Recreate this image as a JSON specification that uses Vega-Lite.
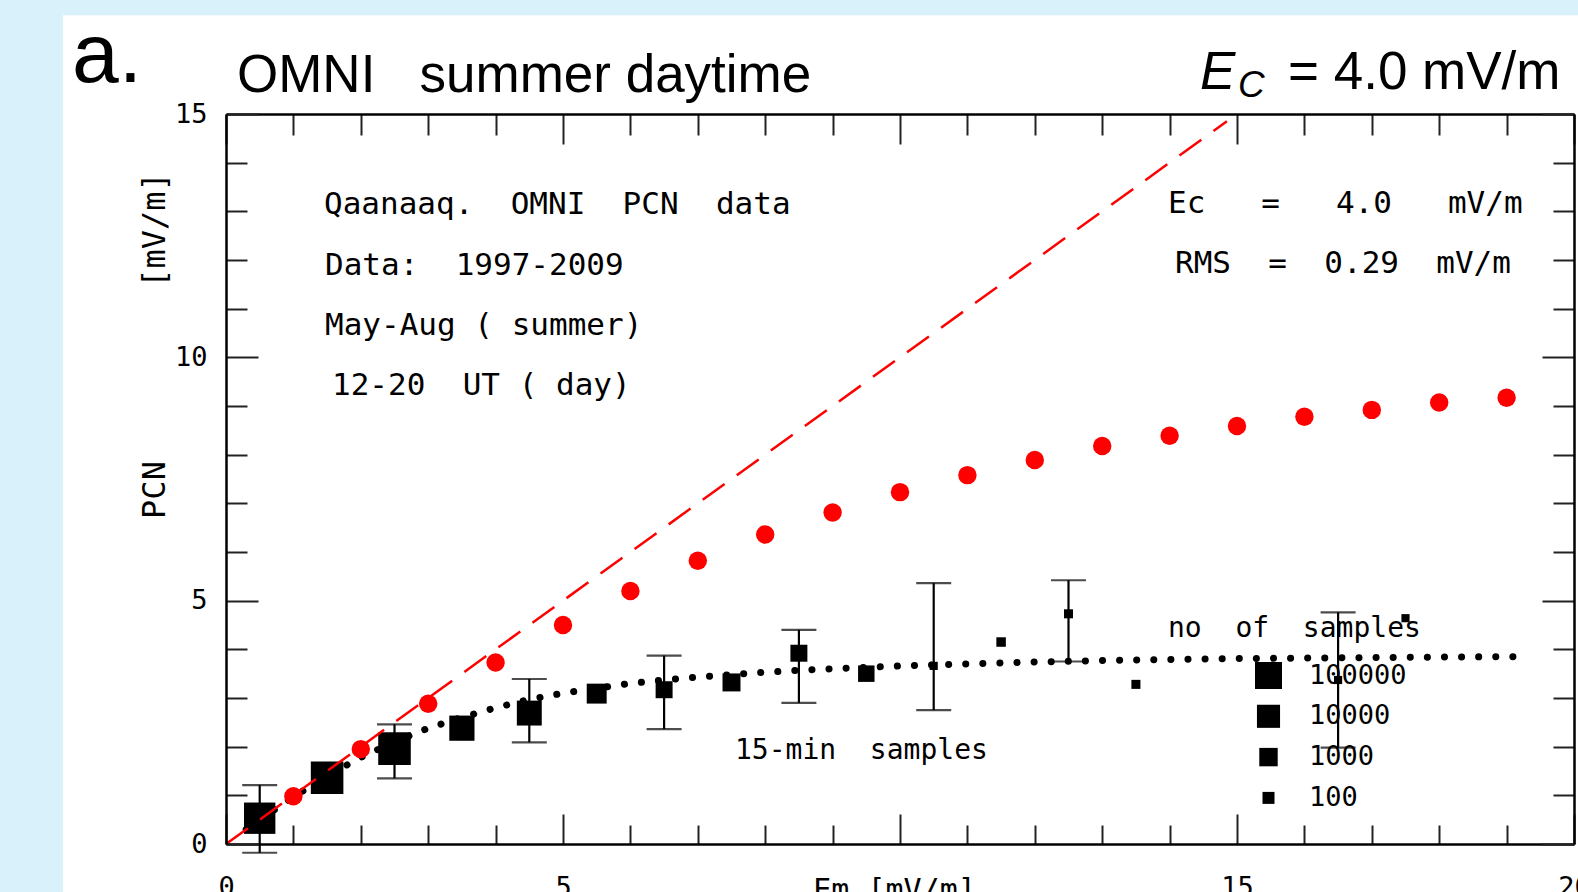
{
  "$schema": "https://vega.github.io/schema/vega-lite/v6.json",
  "width": 1348,
  "height": 730,
  "autosize": {"type": "none"},
  "padding": {"left": 226, "top": 114, "right": 4, "bottom": 48},
  "background": "#d9f1fb",
  "config": {"view": {"stroke": null}, "font": "DejaVu Sans Mono"},
  "datasets": {
    "model": [
      {"em": 1, "pcn": 0.98}, {"em": 2, "pcn": 1.95}, {"em": 3, "pcn": 2.88}, {"em": 4, "pcn": 3.73},
      {"em": 5, "pcn": 4.5}, {"em": 6, "pcn": 5.2}, {"em": 7, "pcn": 5.82}, {"em": 8, "pcn": 6.36},
      {"em": 9, "pcn": 6.81}, {"em": 10, "pcn": 7.23}, {"em": 11, "pcn": 7.58}, {"em": 12, "pcn": 7.89},
      {"em": 13, "pcn": 8.18}, {"em": 14, "pcn": 8.39}, {"em": 15, "pcn": 8.59}, {"em": 16, "pcn": 8.78},
      {"em": 17, "pcn": 8.92}, {"em": 18, "pcn": 9.07}, {"em": 19, "pcn": 9.17}
    ],
    "diag": [{"em": 0, "pcn": 0}, {"em": 14.85, "pcn": 14.85}],
    "fit": [
      {"em": 0.3, "pcn": 0.3}, {"em": 0.5, "pcn": 0.5}, {"em": 1, "pcn": 0.97}, {"em": 1.5, "pcn": 1.4},
      {"em": 2, "pcn": 1.78}, {"em": 2.5, "pcn": 2.1}, {"em": 3, "pcn": 2.38}, {"em": 3.5, "pcn": 2.6},
      {"em": 4, "pcn": 2.8}, {"em": 4.5, "pcn": 2.97}, {"em": 5, "pcn": 3.1}, {"em": 5.5, "pcn": 3.2},
      {"em": 6, "pcn": 3.3}, {"em": 6.5, "pcn": 3.37}, {"em": 7, "pcn": 3.43}, {"em": 7.5, "pcn": 3.48},
      {"em": 8, "pcn": 3.53}, {"em": 8.5, "pcn": 3.57}, {"em": 9, "pcn": 3.6}, {"em": 9.5, "pcn": 3.63},
      {"em": 10, "pcn": 3.66}, {"em": 11, "pcn": 3.7}, {"em": 12, "pcn": 3.74}, {"em": 13, "pcn": 3.77},
      {"em": 14, "pcn": 3.79}, {"em": 15, "pcn": 3.81}, {"em": 16, "pcn": 3.82}, {"em": 17, "pcn": 3.83},
      {"em": 18, "pcn": 3.84}, {"em": 19.1, "pcn": 3.85}
    ],
    "bins": [
      {"em": 0.5, "pcn": 0.53, "n": 2000000}, {"em": 1.5, "pcn": 1.36, "n": 5000000},
      {"em": 2.5, "pcn": 1.96, "n": 5000000}, {"em": 3.5, "pcn": 2.38, "n": 33000},
      {"em": 4.5, "pcn": 2.69, "n": 28000}, {"em": 5.5, "pcn": 3.09, "n": 2000},
      {"em": 6.5, "pcn": 3.17, "n": 550}, {"em": 7.5, "pcn": 3.32, "n": 830},
      {"em": 8.5, "pcn": 3.92, "n": 550}, {"em": 9.5, "pcn": 3.5, "n": 450},
      {"em": 10.5, "pcn": 3.66, "n": 40}, {"em": 11.5, "pcn": 4.15, "n": 53},
      {"em": 12.5, "pcn": 4.73, "n": 48}, {"em": 13.5, "pcn": 3.28, "n": 48},
      {"em": 16.5, "pcn": 3.37, "n": 40}, {"em": 17.5, "pcn": 4.64, "n": 40}
    ],
    "errors": [
      {"em": 0.5, "lo": -0.18, "hi": 1.21}, {"em": 2.5, "lo": 1.35, "hi": 2.46},
      {"em": 4.5, "lo": 2.09, "hi": 3.39}, {"em": 6.5, "lo": 2.36, "hi": 3.87},
      {"em": 8.5, "lo": 2.9, "hi": 4.4}, {"em": 10.5, "lo": 2.75, "hi": 5.36},
      {"em": 12.5, "lo": 3.75, "hi": 5.42}, {"em": 16.5, "lo": 1.98, "hi": 4.76}
    ],
    "notes": [
      {"text": "Qaanaaq.\u00a0\u00a0OMNI\u00a0\u00a0PCN\u00a0\u00a0data", "em": 1.454, "pcn": 12.944},
      {"text": "Data:\u00a0\u00a01997-2009", "em": 1.469, "pcn": 11.69},
      {"text": "May-Aug\u00a0(\u00a0summer)", "em": 1.469, "pcn": 10.458},
      {"text": "12-20\u00a0\u00a0UT\u00a0(\u00a0day)", "em": 1.573, "pcn": 9.225},
      {"text": "Ec\u00a0\u00a0\u00a0=\u00a0\u00a0\u00a04.0\u00a0\u00a0\u00a0mV/m", "em": 13.976, "pcn": 12.965},
      {"text": "RMS\u00a0\u00a0=\u00a0\u00a00.29\u00a0\u00a0mV/m", "em": 14.08, "pcn": 11.73}
    ],
    "smallnotes": [
      {"text": "15-min\u00a0\u00a0samples", "em": 7.552, "pcn": 1.746},
      {"text": "no\u00a0\u00a0of\u00a0\u00a0samples", "em": 13.976, "pcn": 4.253}
    ],
    "heads": [
      {"text": "OMNI\u00a0\u00a0\u00a0summer daytime", "em": 0.163, "pcn": 15.45},
      {"text": "= 4.0 mV/m", "em": 15.757, "pcn": 15.513}
    ]
  },
  "layer": [
    {
      "data": {"values": [{}]},
      "mark": {"type": "rect", "fill": "white"},
      "encoding": {
        "x": {"datum": -2.42, "type": "quantitative", "scale": {"domain": [0, 20], "nice": false},
          "axis": {
            "orient": "bottom", "zindex": 1, "values": [0,1,2,3,4,5,6,7,8,9,10,11,12,13,14,15,16,17,18,19,20],
            "tickSize": {"condition": {"test": "datum.value % 5 === 0", "value": -30}, "value": -19},
            "tickWidth": 2, "tickColor": "#222", "domainColor": "black", "domainWidth": 2.5, "grid": false,
            "labelExpr": "datum.value % 5 === 0 && datum.value !== 10 ? datum.label : ''",
            "labelFont": "DejaVu Sans Mono", "labelFontSize": 27, "labelColor": "black",
            "labelPadding": 60, "labelFlush": false, "labelOverlap": false, "labelBound": false, "labelBaseline": "top",
            "title": "Em\u00a0[mV/m]", "titleFont": "DejaVu Sans Mono", "titleFontSize": 30, "titleFontWeight": "normal",
            "titleColor": "black", "titleX": 668, "titleY": 31, "titleBaseline": "top", "titleAlign": "center"
          }},
        "x2": {"datum": 20.4},
        "y": {"datum": 17.03, "type": "quantitative", "scale": {"domain": [0, 15], "nice": false},
          "axis": {
            "orient": "left", "zindex": 1, "values": [0,1,2,3,4,5,6,7,8,9,10,11,12,13,14,15],
            "tickSize": {"condition": {"test": "datum.value % 5 === 0", "value": -32}, "value": -21},
            "tickWidth": 2, "tickColor": "#222", "domainColor": "black", "domainWidth": 2.5, "grid": false,
            "labelExpr": "datum.value % 5 === 0 ? datum.label : ''",
            "labelFont": "DejaVu Sans Mono", "labelFontSize": 27, "labelColor": "black",
            "labelPadding": 51, "labelFlush": false, "labelOverlap": false, "labelBound": false,
            "labelAlign": "right", "labelBaseline": "middle",
            "title": "PCN\u00a0\u00a0\u00a0\u00a0\u00a0\u00a0\u00a0\u00a0\u00a0[mV/m]", "titleFont": "DejaVu Sans Mono", "titleFontSize": 32, "titleFontWeight": "normal",
            "titleColor": "black", "titleX": -72, "titleY": 231, "titleAngle": 270,
            "titleBaseline": "middle", "titleAlign": "center"
          }},
        "y2": {"datum": -1.3}
      }
    },
    {
      "data": {"name": "fit"},
      "mark": {"type": "line", "color": "black", "strokeWidth": 7, "strokeDash": [0.1, 17], "strokeCap": "round"},
      "encoding": {
        "x": {"field": "em", "type": "quantitative",
          "axis": {
            "orient": "top", "zindex": 1, "values": [0,1,2,3,4,5,6,7,8,9,10,11,12,13,14,15,16,17,18,19,20],
            "tickSize": {"condition": {"test": "datum.value % 5 === 0", "value": -30}, "value": -21},
            "tickWidth": 2, "tickColor": "#222", "domainColor": "black", "domainWidth": 2.5, "grid": false,
            "labels": false, "title": null
          }},
        "y": {"field": "pcn", "type": "quantitative",
          "axis": {
            "orient": "right", "zindex": 1, "values": [0,1,2,3,4,5,6,7,8,9,10,11,12,13,14,15],
            "tickSize": {"condition": {"test": "datum.value % 5 === 0", "value": -32}, "value": -21},
            "tickWidth": 2, "tickColor": "#222", "domainColor": "black", "domainWidth": 2.5, "grid": false,
            "labels": false, "title": null
          }}
      }
    },
    {
      "data": {"name": "errors"},
      "mark": {"type": "errorbar", "color": "black", "ticks": {"size": 35, "thickness": 2.2, "color": "black"}, "rule": {"strokeWidth": 2.2, "color": "black"}},
      "encoding": {
        "x": {"field": "em", "type": "quantitative", "axis": null},
        "y": {"field": "lo", "type": "quantitative", "axis": null},
        "y2": {"field": "hi"}
      }
    },
    {
      "data": {"name": "bins"},
      "mark": {"type": "point", "shape": "square", "filled": true, "color": "black", "opacity": 1},
      "encoding": {
        "x": {"field": "em", "type": "quantitative", "axis": null},
        "y": {"field": "pcn", "type": "quantitative", "axis": null},
        "size": {"field": "n", "type": "quantitative",
          "scale": {"type": "log", "domain": [100, 100000], "range": [144, 729]},
          "legend": {
            "orient": "none", "legendX": 1029, "legendY": 548, "values": [100000, 10000, 1000, 100],
            "title": null, "format": "d", "padding": 0, "rowPadding": 12.8, "labelOffset": 27,
            "labelFont": "DejaVu Sans Mono", "labelFontSize": 27, "labelColor": "black",
            "symbolType": "square", "symbolFillColor": "black", "symbolStrokeWidth": 0, "symbolOpacity": 1
          }}
      }
    },
    {
      "data": {"name": "diag"},
      "mark": {"type": "line", "color": "#ff0000", "strokeWidth": 2.5, "strokeDash": [27, 15]},
      "encoding": {
        "x": {"field": "em", "type": "quantitative", "axis": null},
        "y": {"field": "pcn", "type": "quantitative", "axis": null}
      }
    },
    {
      "data": {"name": "model"},
      "mark": {"type": "point", "shape": "circle", "filled": true, "color": "#ff0000", "opacity": 1, "size": 340},
      "encoding": {
        "x": {"field": "em", "type": "quantitative", "axis": null},
        "y": {"field": "pcn", "type": "quantitative", "axis": null}
      }
    },
    {
      "data": {"name": "notes"},
      "mark": {"type": "text", "font": "DejaVu Sans Mono", "fontSize": 31, "color": "black", "align": "left", "baseline": "alphabetic"},
      "encoding": {
        "x": {"field": "em", "type": "quantitative", "axis": null},
        "y": {"field": "pcn", "type": "quantitative", "axis": null},
        "text": {"field": "text"}
      }
    },
    {
      "data": {"name": "smallnotes"},
      "mark": {"type": "text", "font": "DejaVu Sans Mono", "fontSize": 28, "color": "black", "align": "left", "baseline": "alphabetic"},
      "encoding": {
        "x": {"field": "em", "type": "quantitative", "axis": null},
        "y": {"field": "pcn", "type": "quantitative", "axis": null},
        "text": {"field": "text"}
      }
    },
    {
      "data": {"name": "heads"},
      "mark": {"type": "text", "font": "Liberation Sans", "fontSize": 53, "color": "black", "align": "left", "baseline": "alphabetic"},
      "encoding": {
        "x": {"field": "em", "type": "quantitative", "axis": null},
        "y": {"field": "pcn", "type": "quantitative", "axis": null},
        "text": {"field": "text"}
      }
    },
    {
      "data": {"values": [{"text": "a."}]},
      "mark": {"type": "text", "font": "Liberation Sans", "fontSize": 84, "color": "black", "align": "left", "baseline": "alphabetic"},
      "encoding": {
        "x": {"datum": -2.285, "type": "quantitative", "axis": null},
        "y": {"datum": 15.66, "type": "quantitative", "axis": null},
        "text": {"field": "text"}
      }
    },
    {
      "data": {"values": [{"text": "E"}]},
      "mark": {"type": "text", "font": "Liberation Sans", "fontSize": 53, "fontStyle": "italic", "color": "black", "align": "left", "baseline": "alphabetic"},
      "encoding": {
        "x": {"datum": 14.451, "type": "quantitative", "axis": null},
        "y": {"datum": 15.513, "type": "quantitative", "axis": null},
        "text": {"field": "text"}
      }
    },
    {
      "data": {"values": [{"text": "C"}]},
      "mark": {"type": "text", "font": "Liberation Sans", "fontSize": 37, "fontStyle": "italic", "color": "black", "align": "left", "baseline": "alphabetic"},
      "encoding": {
        "x": {"datum": 15.015, "type": "quantitative", "axis": null},
        "y": {"datum": 15.35, "type": "quantitative", "axis": null},
        "text": {"field": "text"}
      }
    }
  ],
  "resolve": {"axis": {"x": "independent", "y": "independent"}}
}
